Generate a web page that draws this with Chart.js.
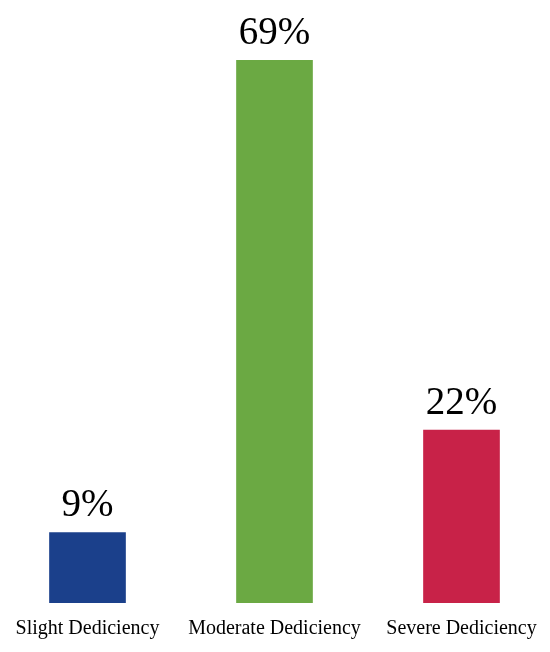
<!DOCTYPE html>
<html>
<head>
<meta charset="utf-8">
<script src="https://cdn.jsdelivr.net/npm/chart.js@4/dist/chart.umd.min.js"></script>
<style>
  html, body { margin: 0; padding: 0; background: #fff; overflow: hidden; }
  #wrap { position: absolute; left: -6px; top: 0; width: 561px; height: 652px; }
</style>
</head>
<body>
<div id="wrap"><canvas id="chart"></canvas></div>
<script>
const categories = ['Slight Dediciency', 'Moderate Dediciency', 'Severe Dediciency'];
const values = [9, 69, 22];
const valueLabels = ['9%', '69%', '22%'];
const barColors = ['#1b408b', '#6ba943', '#c82248'];

// value text above each bar
const topLabels = {
  id: 'topLabels',
  afterDatasetsDraw(chart) {
    const ctx = chart.ctx;
    const meta = chart.getDatasetMeta(0);
    ctx.save();
    ctx.font = '39px "Liberation Serif", "Times New Roman", serif';
    ctx.fillStyle = '#000';
    ctx.textAlign = 'center';
    ctx.textBaseline = 'alphabetic';
    meta.data.forEach((bar, i) => {
      ctx.fillText(valueLabels[i], bar.x, bar.y - 16);
    });
    ctx.restore();
  }
};

new Chart(document.getElementById('chart'), {
  type: 'bar',
  data: {
    labels: categories,
    datasets: [{
      data: values,
      backgroundColor: barColors,
      categoryPercentage: 1,
      barPercentage: 0.41
    }]
  },
  options: {
    responsive: true,
    maintainAspectRatio: false,
    animation: false,
    layout: { padding: { top: 60, bottom: 5 } },
    plugins: { legend: { display: false }, tooltip: { enabled: false } },
    scales: {
      x: {
        grid: { display: false },
        border: { display: false },
        ticks: {
          color: '#000',
          padding: 6,
          maxRotation: 0,
          font: { family: '"Liberation Serif", "Times New Roman", serif', size: 20 }
        }
      },
      y: {
        display: false,
        min: 0,
        max: 69
      }
    }
  },
  plugins: [topLabels]
});
</script>
</body>
</html>
